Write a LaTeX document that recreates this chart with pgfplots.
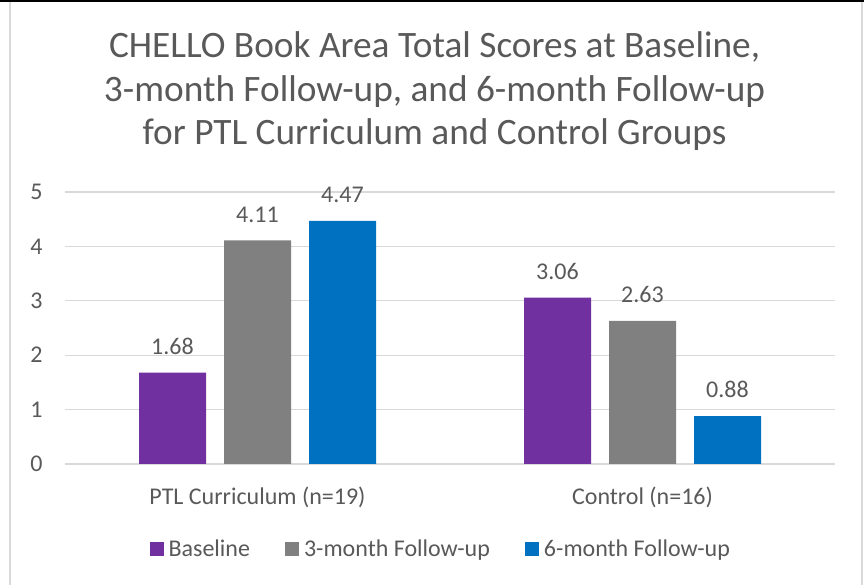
\documentclass[border=0pt]{standalone}
\usepackage{pgfplots}
\pgfplotsset{compat=1.18}
\usepackage{fontspec}
\setmainfont{Carlito}
\definecolor{cpurple}{HTML}{7030A0}
\definecolor{cgray}{HTML}{808080}
\definecolor{cblue}{HTML}{0070C0}
\definecolor{ctext}{HTML}{595959}
\definecolor{cgrid}{HTML}{D9D9D9}
\begin{document}
\begin{tikzpicture}[x=1pt,y=1pt]
\path[use as bounding box] (0,0) rectangle (864,585);
\fill[black] (0,583) rectangle (864,585);
\draw[cgrid,line width=1.5pt] (10,0) -- (10,583);
\draw[cgrid,line width=1.5pt] (862,0) -- (862,583);
\begin{axis}[
  at={(65pt,121pt)}, anchor=south west,
  scale only axis, width=770pt, height=272pt,
  ybar=18pt, bar width=67pt,
  xmin=-0.5, xmax=1.5, ymin=0, ymax=5,
  xtick={0,1}, xticklabels={PTL Curriculum (n=19), Control (n=16)},
  ytick={0,1,2,3,4,5},
  major tick length=0pt,
  axis line style={draw=none},
  ymajorgrids, grid style={cgrid, line width=1.2pt},
  tick label style={font=\fontsize{24}{26}\selectfont, text=ctext},
  /pgf/number format/assume math mode=true,
  yticklabel style={anchor=east, xshift=-19pt},
  xticklabel style={anchor=north, yshift=-19pt},
  nodes near coords,
  nodes near coords style={font=\fontsize{24}{26}\selectfont, text=ctext, anchor=south, yshift=14.5pt, /pgf/number format/.cd, fixed, precision=2, fixed zerofill, assume math mode=true},
  title={CHELLO Book Area Total Scores at Baseline,\\3-month Follow-up, and 6-month Follow-up\\for PTL Curriculum and Control Groups},
  title style={at={(0.48,1.349)}, anchor=center, align=center, font=\fontsize{37.3}{43.5}\selectfont, text=ctext},
  legend style={at={(0.488,-0.3125)}, anchor=center, draw=none, legend columns=-1, font=\fontsize{24}{26}\selectfont, text=ctext,
    /tikz/every odd column/.append style={column sep=3pt},
    /tikz/every even column/.append style={column sep=33pt}},
  legend image code/.code={\fill[#1] (0pt,-7pt) rectangle (14pt,7pt);},
]
\addplot[fill=cpurple, draw=none] coordinates {(0,1.68) (1,3.06)};
\addplot[fill=cgray, draw=none] coordinates {(0,4.11) (1,2.63)};
\addplot[fill=cblue, draw=none] coordinates {(0,4.47) (1,0.88)};
\legend{Baseline, 3-month Follow-up, 6-month Follow-up}
\end{axis}
\end{tikzpicture}
\end{document}
